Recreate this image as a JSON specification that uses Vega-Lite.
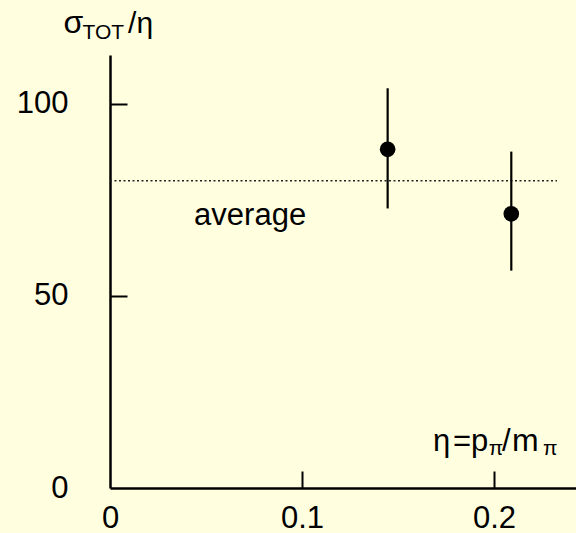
{
  "$schema": "https://vega.github.io/schema/vega-lite/v6.json",
  "width": 466,
  "height": 433,
  "autosize": {"type": "none"},
  "padding": {"left": 110, "top": 55, "right": 0, "bottom": 45},
  "background": "#FFFFE0",
  "config": {"view": {"stroke": null}, "font": "Liberation Sans"},
  "datasets": {
    "points": [
      {"eta": 0.1446, "sigma": 88.2, "lo": 72.8, "hi": 104.1},
      {"eta": 0.2090, "sigma": 71.4, "lo": 56.6, "hi": 87.6}
    ],
    "average": [{"start": 0, "end": 0.2328, "avg": 80.0}],
    "one": [{}]
  },
  "layer": [
    {
      "data": {"name": "average"},
      "mark": {"type": "rule", "strokeDash": [2, 2.5], "strokeWidth": 1.5, "color": "#222222"},
      "encoding": {
        "x": {
          "field": "start", "type": "quantitative",
          "scale": {"domain": [0, 0.2427], "nice": false, "zero": false},
          "axis": {
            "values": [0, 0.1, 0.2], "format": "~g", "title": null, "grid": false,
            "domainColor": "black", "domainWidth": 2.5,
            "tickColor": {"condition": {"test": "datum.value === 0", "value": "transparent"}, "value": "black"},
            "tickSize": -17, "tickWidth": 2,
            "labelFontSize": 31, "labelColor": "black", "labelPadding": 32,
            "labelFlush": false, "labelOverlap": false
          }
        },
        "x2": {"field": "end"},
        "y": {
          "field": "avg", "type": "quantitative",
          "scale": {"domain": [0, 112.76], "nice": false, "zero": false},
          "axis": {
            "values": [0, 50, 100], "format": "d", "title": null, "grid": false,
            "domainColor": "black", "domainWidth": 2.5,
            "tickColor": {"condition": {"test": "datum.value === 0", "value": "transparent"}, "value": "black"},
            "tickSize": -17, "tickWidth": 2,
            "labelFontSize": 31, "labelColor": "black", "labelPadding": 59,
            "labelFlush": false, "labelOverlap": false
          }
        }
      }
    },
    {
      "data": {"name": "points"},
      "mark": {"type": "rule", "strokeWidth": 2.2, "color": "black"},
      "encoding": {
        "x": {"field": "eta", "type": "quantitative"},
        "y": {"field": "lo", "type": "quantitative"},
        "y2": {"field": "hi"}
      }
    },
    {
      "data": {"name": "points"},
      "mark": {"type": "point", "filled": true, "shape": "circle", "size": 245, "color": "black", "opacity": 1},
      "encoding": {
        "x": {"field": "eta", "type": "quantitative"},
        "y": {"field": "sigma", "type": "quantitative"}
      }
    },
    {
      "data": {"name": "one"},
      "mark": {"type": "text", "text": "average", "align": "left", "baseline": "alphabetic", "fontSize": 31, "color": "black"},
      "encoding": {"x": {"datum": 0.0438, "type": "quantitative"}, "y": {"datum": 68.5, "type": "quantitative"}}
    },
    {
      "data": {"name": "one"},
      "mark": {"type": "text", "text": "σ", "align": "left", "baseline": "alphabetic", "fontSize": 32, "color": "black"},
      "encoding": {"x": {"datum": -0.0242, "type": "quantitative"}, "y": {"datum": 118.5, "type": "quantitative"}}
    },
    {
      "data": {"name": "one"},
      "mark": {"type": "text", "text": "TOT", "align": "left", "baseline": "alphabetic", "fontSize": 21, "color": "black"},
      "encoding": {"x": {"datum": -0.0143, "type": "quantitative"}, "y": {"datum": 116.9, "type": "quantitative"}}
    },
    {
      "data": {"name": "one"},
      "mark": {"type": "text", "text": "/η", "align": "left", "baseline": "alphabetic", "fontSize": 30, "color": "black"},
      "encoding": {"x": {"datum": 0.0094, "type": "quantitative"}, "y": {"datum": 118.5, "type": "quantitative"}}
    },
    {
      "data": {"name": "one"},
      "mark": {"type": "text", "text": "η", "align": "left", "baseline": "alphabetic", "fontSize": 31, "color": "black"},
      "encoding": {"x": {"datum": 0.16823, "type": "quantitative"}, "y": {"datum": 9.64, "type": "quantitative"}}
    },
    {
      "data": {"name": "one"},
      "mark": {"type": "text", "text": "=", "align": "left", "baseline": "alphabetic", "fontSize": 31, "color": "black"},
      "encoding": {"x": {"datum": 0.17865, "type": "quantitative"}, "y": {"datum": 9.64, "type": "quantitative"}}
    },
    {
      "data": {"name": "one"},
      "mark": {"type": "text", "text": "p", "align": "left", "baseline": "alphabetic", "fontSize": 31, "color": "black"},
      "encoding": {"x": {"datum": 0.18802, "type": "quantitative"}, "y": {"datum": 9.64, "type": "quantitative"}}
    },
    {
      "data": {"name": "one"},
      "mark": {"type": "text", "text": "π", "align": "left", "baseline": "alphabetic", "fontSize": 21, "color": "black"},
      "encoding": {"x": {"datum": 0.1972, "type": "quantitative"}, "y": {"datum": 8.59, "type": "quantitative"}}
    },
    {
      "data": {"name": "one"},
      "mark": {"type": "text", "text": "/", "align": "left", "baseline": "alphabetic", "fontSize": 31, "color": "black"},
      "encoding": {"x": {"datum": 0.2042, "type": "quantitative"}, "y": {"datum": 9.64, "type": "quantitative"}}
    },
    {
      "data": {"name": "one"},
      "mark": {"type": "text", "text": "m", "align": "left", "baseline": "alphabetic", "fontSize": 32, "color": "black"},
      "encoding": {"x": {"datum": 0.20937, "type": "quantitative"}, "y": {"datum": 9.64, "type": "quantitative"}}
    },
    {
      "data": {"name": "one"},
      "mark": {"type": "text", "text": "π", "align": "left", "baseline": "alphabetic", "fontSize": 21, "color": "black"},
      "encoding": {"x": {"datum": 0.2255, "type": "quantitative"}, "y": {"datum": 8.59, "type": "quantitative"}}
    }
  ]
}
